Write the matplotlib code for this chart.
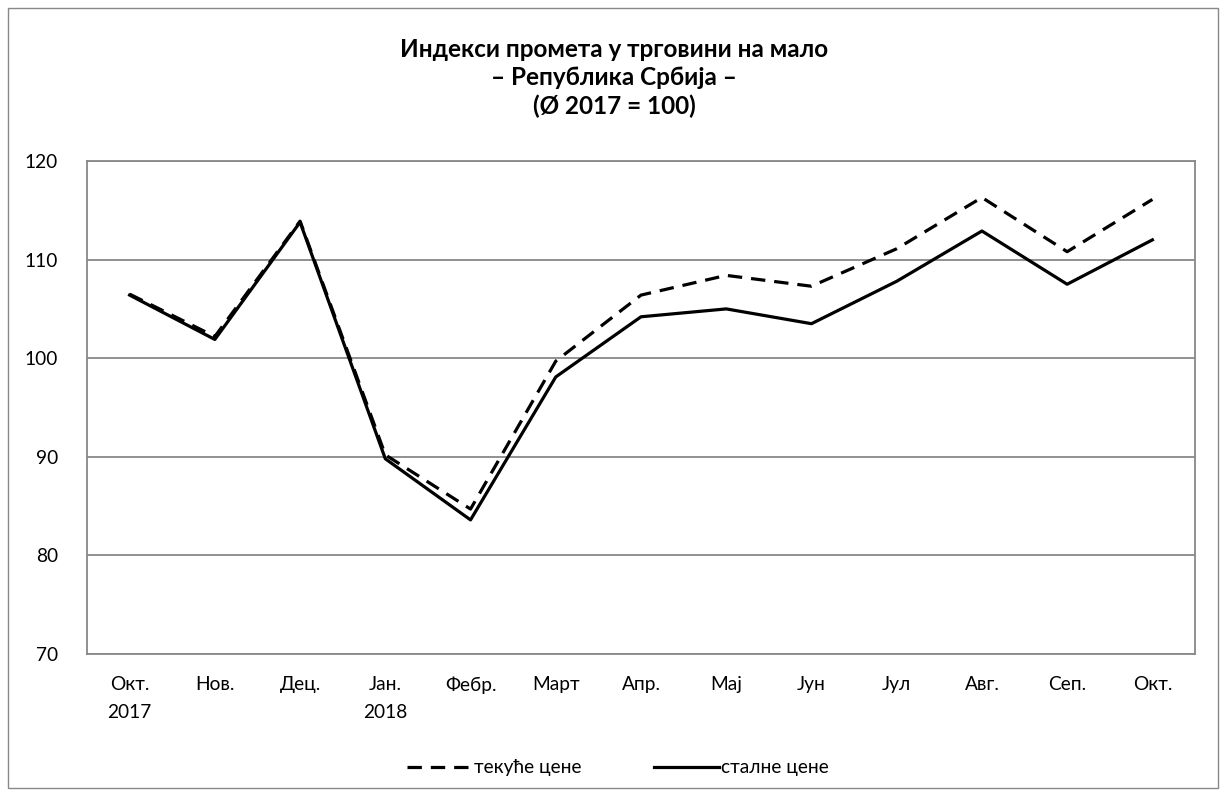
import matplotlib
matplotlib.use("Agg")
import matplotlib.pyplot as plt
from matplotlib.patches import Rectangle

plt.rcParams['font.family'] = ['Lato', 'DejaVu Sans']

categories = ["Окт.\n2017", "Нов.", "Дец.", "Јан.\n2018", "Фебр.", "Март", "Апр.",
              "Мај", "Јун", "Јул", "Авг.", "Сеп.", "Окт."]
current_prices = [106.5, 102.2, 113.9, 90.2, 84.7, 99.7, 106.4, 108.4, 107.3, 111.1, 116.3, 110.8, 116.1]
constant_prices = [106.4, 101.9, 113.8, 89.8, 83.6, 98.1, 104.2, 105.0, 103.5, 107.8, 112.9, 107.5, 112.0]
yticks = [70, 80, 90, 100, 110, 120]
title = "Индекси промета у трговини на мало\n– Република Србија –\n(Ø 2017 = 100)"

fig = plt.figure(figsize=(12.28, 7.96), dpi=100)
fig.patches.append(Rectangle((8/1228, 8/796), 1210/1228, 780/796, transform=fig.transFigure,
                             fill=False, edgecolor='#888888', linewidth=1.0))
ax = fig.add_axes([87/1228, 1 - 654/796, (1195-87)/1228, (654-161)/796])

x = list(range(len(categories)))
ax.plot(x, current_prices, color='black', linewidth=2.3, linestyle=(0, (4.5, 2.8)),
        label='текуће цене', solid_capstyle='butt', dash_capstyle='butt')
ax.plot(x, constant_prices, color='black', linewidth=2.3, label='сталне цене')

ax.set_xlim(-0.5, len(categories) - 0.5)
ax.set_ylim(70, 120)
ax.set_yticks(yticks)
ax.set_yticklabels([str(v) for v in yticks])
ax.set_xticks(x)
ax.set_xticklabels(categories, linespacing=1.75)
ax.tick_params(axis='both', length=0, labelsize=13.8, colors='black')
ax.tick_params(axis='x', pad=16)
ax.tick_params(axis='y', pad=21)
ax.grid(axis='y', color='#888888', linewidth=1.3)
ax.set_axisbelow(True)
for s in ax.spines.values():
    s.set_color('#888888')
    s.set_linewidth(1.3)

fig.text(0.5, 1 - 78/796, title, ha='center', va='center', fontsize=17.5, fontweight='bold',
         linespacing=1.28)

leg = fig.legend(loc='center', bbox_to_anchor=(0.503, 1 - 768/796), ncol=2, frameon=False,
                 fontsize=13.8, handlelength=3.4, handletextpad=0.1, columnspacing=3.8)

fig.savefig('out.png', dpi=100)
